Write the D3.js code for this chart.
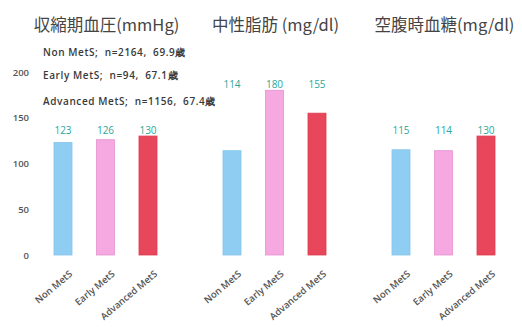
<!DOCTYPE html>
<html>
<head>
<meta charset="utf-8">
<script src="https://cdn.jsdelivr.net/npm/d3@7/dist/d3.min.js"></script>
<style>
  html, body { margin: 0; padding: 0; background: #ffffff; }
  svg { display: block; }
</style>
</head>
<body>
<svg id="chart" width="522" height="327"></svg>
<script>
// Groups compared in every panel
const groups = ["Non MetS", "Early MetS", "Advanced MetS"];

// Panel titles
const titles = ["収縮期血圧(mmHg)", "中性脂肪 (mg/dl)", "空腹時血糖(mg/dl)"];

// Mean values per group
const sbpValues = [123, 126, 130];   // systolic blood pressure
const tgValues  = [114, 180, 155];   // triglycerides
const fbgValues = [115, 114, 130];   // fasting blood glucose

// Shared y axis ticks
const yTicks = [0, 50, 100, 150, 200];

// Group sizes and mean ages
const legendLines = [
  "Non MetS;  n=2164,  69.9歳",
  "Early MetS;  n=94,  67.1歳",
  "Advanced MetS;  n=1156,  67.4歳"
];

const colors = ["#8fcdf2", "#f5a9e0", "#e8465a"];
const strokes = ["#84c4ec", "#e692d2", "#dd3d51"];

const panels = [sbpValues, tgValues, fbgValues];

const svg = d3.select("#chart");

const y = d3.scaleLinear().domain([0, 200]).range([255, 72]);

// Y axis labels only (no line or tick marks)
const yAxis = svg.append("g")
  .attr("transform", "translate(29,0)")
  .call(d3.axisLeft(y).tickValues(yTicks).tickSize(0).tickPadding(0));
yAxis.select(".domain").remove();
yAxis.selectAll("text")
  .attr("font-family", "'Open Sans', sans-serif")
  .attr("font-size", 9.5)
  .attr("font-weight", 600)
  .attr("fill", "#555");

const panelWidth = 127.5;
const panelStep = 169;
const panelStart = 41.75;

panels.forEach((values, i) => {
  const x0 = panelStart + i * panelStep;
  const x = d3.scaleBand()
    .domain(groups)
    .range([x0, x0 + panelWidth])
    .paddingInner(0.576)
    .paddingOuter(0.288);

  const g = svg.append("g");

  // Title
  g.append("text")
    .attr("x", x0 + panelWidth / 2 + 1)
    .attr("y", 31)
    .attr("text-anchor", "middle")
    .attr("font-family", "'Noto Sans CJK JP', sans-serif")
    .attr("font-size", 16.5)
    .attr("fill", "#444")
    .text(titles[i]);

  // Bars
  g.selectAll("rect")
    .data(values)
    .join("rect")
    .attr("x", (d, j) => x(groups[j]))
    .attr("width", x.bandwidth())
    .attr("y", d => y(d))
    .attr("height", d => y(0) - y(d))
    .attr("fill", (d, j) => colors[j])
    .attr("stroke", (d, j) => strokes[j])
    .attr("stroke-width", 0.8);

  // Value labels on a common row above the tallest bar
  const labelY = y(d3.max(values)) - 2;
  g.selectAll("text.val")
    .data(values)
    .join("text")
    .attr("class", "val")
    .attr("x", (d, j) => x(groups[j]) + x.bandwidth() / 2)
    .attr("y", labelY)
    .attr("text-anchor", "middle")
    .attr("font-family", "'Open Sans', sans-serif")
    .attr("font-size", 10)
    .attr("fill", "#2aa89a")
    .text(d => d);

  // Rotated category labels
  const xAxis = g.append("g")
    .attr("transform", "translate(0,262)")
    .call(d3.axisBottom(x).tickSize(0).tickPadding(0));
  xAxis.select(".domain").remove();
  xAxis.selectAll("text")
    .attr("font-family", "'Open Sans', sans-serif")
    .attr("font-size", 9.5)
    .attr("font-weight", 600)
    .attr("fill", "#555")
    .attr("text-anchor", "end")
    .attr("dy", 0)
    .attr("transform", "translate(10,13) rotate(-40)");
});

// Group descriptions
svg.append("g")
  .selectAll("text")
  .data(legendLines)
  .join("text")
  .attr("x", 43)
  .attr("y", (d, i) => [56, 79, 105][i])
  .attr("xml:space", "preserve")
  .style("white-space", "pre")
  .attr("font-family", "'Open Sans', sans-serif")
  .attr("font-size", 10)
  .attr("font-weight", 600)
  .attr("letter-spacing", 0.6)
  .attr("fill", "#3a3a3a")
  .text(d => d);
</script>
</body>
</html>
